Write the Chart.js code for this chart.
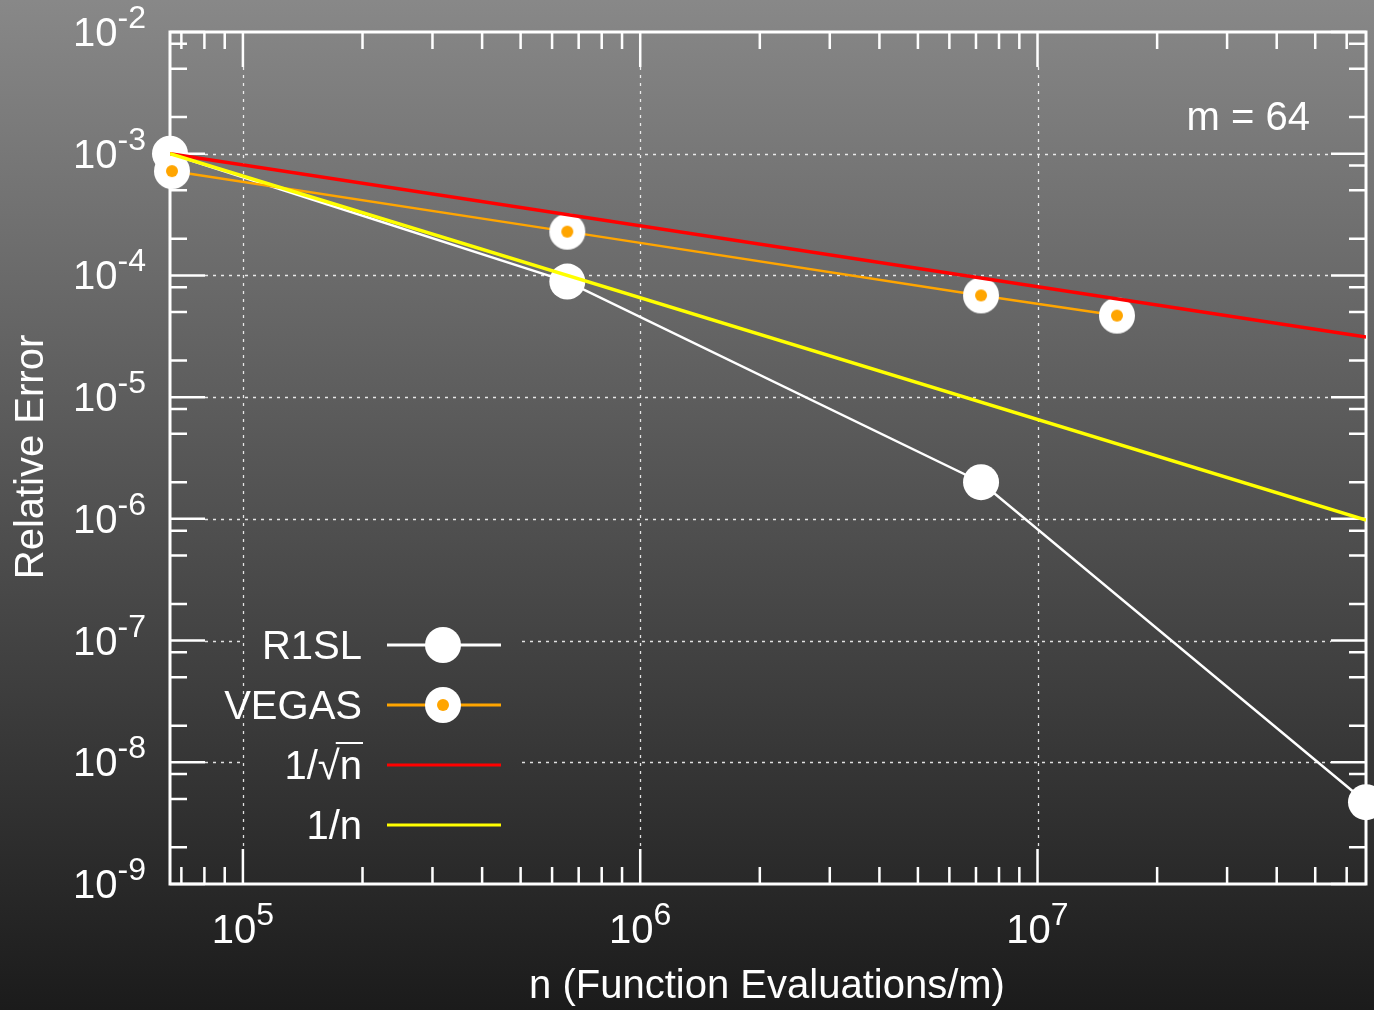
<!DOCTYPE html>
<html>
<head>
<meta charset="utf-8">
<title>Relative Error vs n</title>
<script src="https://cdn.jsdelivr.net/npm/chart.js@4.4.0/dist/chart.umd.min.js"></script>
<style>
  html, body { margin: 0; padding: 0; background: #1b1b1b; }
  #wrap { width: 1374px; height: 1010px; }
</style>
</head>
<body>
<div id="wrap"><canvas id="errChart" width="1374" height="1010"></canvas></div>
<script>
// axis ranges and ticks
const xLimits = [65536, 67108864];
const yLimits = [1e-9, 1e-2];
const xMajorTicks = [1e5, 1e6, 1e7];
const yMajorTicks = [1e-2, 1e-3, 1e-4, 1e-5, 1e-6, 1e-7, 1e-8, 1e-9];
const xMinorMult = [2, 3, 4, 5, 6, 7, 8, 9];
const yMinorMult = [2, 5, 8];

// R1SL runs
const r1slN = [65536, 655360, 7208960, 67108864];
const r1slErr = [1.0e-3, 8.9e-5, 2.0e-6, 4.7e-9];

// VEGAS runs
const vegasN = [66300, 655360, 7208960, 15850000];
const vegasErr = [7.2e-4, 2.29e-4, 6.85e-5, 4.68e-5];

// reference slopes
const refN = [65536, 67108864];
const sqrtRefErr = [1.0e-3, 3.125e-5];
const invRefErr = [1.0e-3, 9.77e-7];

const legendLabels = ['R1SL', 'VEGAS', '1/\u221An', '1/n'];
const xTitle = 'n (Function Evaluations/m)';
const yTitle = 'Relative Error';
const noteText = 'm = 64';

const FONT = '"Liberation Sans", Arial, Helvetica, sans-serif';
const ORANGE = '#ffa500';

function toPoints(xs, ys) {
  return xs.map((x, i) => ({ x: x, y: ys[i] }));
}

// white disc with orange centre for the VEGAS markers
function makeVegasMarker() {
  const c = document.createElement('canvas');
  c.width = 38; c.height = 38;
  const g = c.getContext('2d');
  g.fillStyle = '#ffffff';
  g.beginPath(); g.arc(19, 19, 18, 0, Math.PI * 2); g.fill();
  g.fillStyle = ORANGE;
  g.beginPath(); g.arc(19, 19, 6, 0, Math.PI * 2); g.fill();
  return c;
}
const vegasMarker = makeVegasMarker();

// legend area keeps the horizontal grid clear
const legendBox = { x1: 245, x2: 522, y1: 615, y2: 855 };

function powLabel(ctx, exp, x, y, align) {
  // draws 10^exp ; x is centre (align 'center') or right edge (align 'right')
  ctx.font = '40px ' + FONT;
  const wBase = ctx.measureText('10').width;
  ctx.font = '32px ' + FONT;
  const wExp = ctx.measureText(exp).width;
  const total = wBase + wExp;
  const start = align === 'center' ? x - total / 2 : x - total;
  ctx.textAlign = 'left';
  ctx.textBaseline = 'alphabetic';
  ctx.font = '40px ' + FONT;
  ctx.fillText('10', start, y);
  ctx.font = '32px ' + FONT;
  ctx.fillText(exp, start + wBase, y - 18);
}

const decor = {
  id: 'decor',
  beforeDraw(chart) {
    const ctx = chart.ctx;
    const g = ctx.createLinearGradient(0, 0, 0, chart.height);
    g.addColorStop(0, '#888888');
    g.addColorStop(1, '#1b1b1b');
    ctx.save();
    ctx.fillStyle = g;
    ctx.fillRect(0, 0, chart.width, chart.height);
    ctx.restore();
  },
  beforeDatasetsDraw(chart) {
    const ctx = chart.ctx;
    const a = chart.chartArea;
    const xs = chart.scales.x, ys = chart.scales.y;
    const MAJ = 35, MIN = 17;
    ctx.save();

    // dotted grid at the decades
    ctx.strokeStyle = 'rgba(255,255,255,0.85)';
    ctx.lineWidth = 1.3;
    ctx.setLineDash([3, 5]);
    xMajorTicks.forEach(v => {
      const px = Math.round(xs.getPixelForValue(v)) + 0.5;
      ctx.beginPath(); ctx.moveTo(px, a.top + MAJ); ctx.lineTo(px, a.bottom - MAJ); ctx.stroke();
    });
    yMajorTicks.forEach(v => {
      const py = Math.round(ys.getPixelForValue(v)) + 0.5;
      if (py <= a.top + 2 || py >= a.bottom - 2) return;
      ctx.beginPath();
      if (py > legendBox.y1 && py < legendBox.y2) {
        ctx.moveTo(a.left + MAJ, py); ctx.lineTo(legendBox.x1, py);
        ctx.moveTo(legendBox.x2, py); ctx.lineTo(a.right - MAJ, py);
      } else {
        ctx.moveTo(a.left + MAJ, py); ctx.lineTo(a.right - MAJ, py);
      }
      ctx.stroke();
    });
    ctx.setLineDash([]);

    // ticks on all four sides, pointing in
    ctx.strokeStyle = '#ffffff';
    ctx.lineWidth = 2.5;
    const xTick = (v, len) => {
      const px = xs.getPixelForValue(v);
      ctx.beginPath();
      ctx.moveTo(px, a.bottom); ctx.lineTo(px, a.bottom - len);
      ctx.moveTo(px, a.top); ctx.lineTo(px, a.top + len);
      ctx.stroke();
    };
    const yTick = (v, len) => {
      const py = ys.getPixelForValue(v);
      ctx.beginPath();
      ctx.moveTo(a.left, py); ctx.lineTo(a.left + len, py);
      ctx.moveTo(a.right, py); ctx.lineTo(a.right - len, py);
      ctx.stroke();
    };
    for (let e = 4; e <= 7; e++) {
      xMinorMult.forEach(m => {
        const v = m * Math.pow(10, e);
        if (v > xLimits[0] && v < xLimits[1]) xTick(v, MIN);
      });
    }
    xMajorTicks.forEach(v => xTick(v, MAJ));
    for (let e = -9; e <= -3; e++) {
      yMinorMult.forEach(m => {
        const v = m * Math.pow(10, e);
        if (v > yLimits[0] && v < yLimits[1]) yTick(v, MIN);
      });
    }
    yMajorTicks.forEach(v => yTick(v, MAJ));

    // frame
    ctx.lineWidth = 3;
    ctx.strokeRect(a.left, a.top, a.right - a.left, a.bottom - a.top);

    // tick labels
    ctx.fillStyle = '#ffffff';
    xMajorTicks.forEach(v => {
      powLabel(ctx, String(Math.round(Math.log10(v))), xs.getPixelForValue(v), 943, 'center');
    });
    yMajorTicks.forEach(v => {
      powLabel(ctx, String(Math.round(Math.log10(v))), 146, ys.getPixelForValue(v) + 14, 'right');
    });

    // axis titles
    ctx.font = '40px ' + FONT;
    ctx.textAlign = 'center';
    ctx.textBaseline = 'alphabetic';
    ctx.fillText(xTitle, 767, 998);
    ctx.save();
    ctx.translate(43, 457);
    ctx.rotate(-Math.PI / 2);
    ctx.fillText(yTitle, 0, 0);
    ctx.restore();

    // note
    ctx.textAlign = 'right';
    ctx.fillText(noteText, 1310, 130);
    ctx.restore();
  },
  afterDatasetsDraw(chart) {
    const ctx = chart.ctx;
    const rows = [645, 705, 765, 825];
    const colors = ['#ffffff', ORANGE, '#ff0000', '#ffff00'];
    const textRight = 362, lx1 = 387, lx2 = 501, mx = 443;
    ctx.save();
    ctx.font = '40px ' + FONT;
    ctx.textAlign = 'right';
    ctx.textBaseline = 'alphabetic';
    ctx.fillStyle = '#ffffff';
    legendLabels.forEach((lab, i) => {
      const y = rows[i];
      ctx.fillText(lab, textRight, y + 14);
      ctx.strokeStyle = colors[i];
      ctx.lineWidth = 3;
      ctx.beginPath(); ctx.moveTo(lx1, y); ctx.lineTo(lx2, y); ctx.stroke();
      if (i === 0) {
        ctx.fillStyle = '#ffffff';
        ctx.beginPath(); ctx.arc(mx, y, 18, 0, Math.PI * 2); ctx.fill();
      } else if (i === 1) {
        ctx.drawImage(vegasMarker, mx - 19, y - 19);
      }
    });
    // overline of the square root
    const wn = ctx.measureText('n').width;
    ctx.strokeStyle = '#ffffff';
    ctx.lineWidth = 2;
    ctx.beginPath();
    ctx.moveTo(textRight - wn - 4, rows[2] - 22);
    ctx.lineTo(textRight + 1, rows[2] - 22);
    ctx.stroke();
    ctx.restore();
  }
};

const ctx = document.getElementById('errChart').getContext('2d');

new Chart(ctx, {
  type: 'scatter',
  data: {
    datasets: [
      {
        label: legendLabels[3],
        data: toPoints(refN, invRefErr),
        showLine: true,
        borderColor: '#ffff00',
        borderWidth: 3.5,
        pointRadius: 0,
        order: 1
      },
      {
        label: legendLabels[2],
        data: toPoints(refN, sqrtRefErr),
        showLine: true,
        borderColor: '#ff0000',
        borderWidth: 3.5,
        pointRadius: 0,
        order: 2
      },
      {
        label: legendLabels[1],
        data: toPoints(vegasN, vegasErr),
        showLine: true,
        borderColor: ORANGE,
        borderWidth: 2.5,
        pointStyle: vegasMarker,
        pointRadius: 18,
        clip: false,
        order: 3
      },
      {
        label: legendLabels[0],
        data: toPoints(r1slN, r1slErr),
        showLine: true,
        borderColor: '#ffffff',
        borderWidth: 2.5,
        pointRadius: 18,
        pointBorderWidth: 0,
        pointBackgroundColor: '#ffffff',
        clip: false,
        order: 4
      }
    ]
  },
  options: {
    responsive: false,
    animation: false,
    events: [],
    layout: { autoPadding: false, padding: { left: 170, top: 32, right: 8, bottom: 126 } },
    scales: {
      x: { type: 'logarithmic', min: xLimits[0], max: xLimits[1], display: false },
      y: { type: 'logarithmic', min: yLimits[0], max: yLimits[1], display: false }
    },
    plugins: {
      legend: { display: false },
      tooltip: { enabled: false }
    }
  },
  plugins: [decor]
});
</script>
</body>
</html>
